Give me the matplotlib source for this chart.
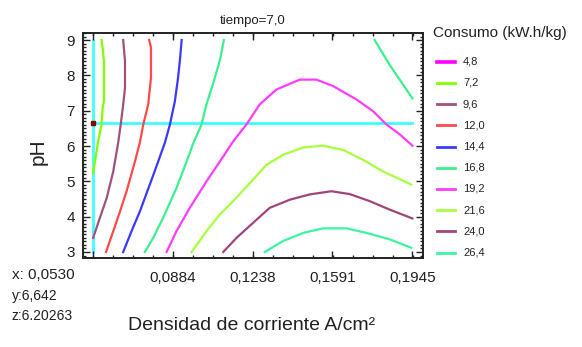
import matplotlib.pyplot as plt
from matplotlib.lines import Line2D
from matplotlib.ticker import MultipleLocator, FixedLocator

plt.rcParams['font.family'] = ['Liberation Sans', 'DejaVu Sans']

# contour levels shown in the legend (kW.h/kg)
levels = [4.8, 7.2, 9.6, 12.0, 14.4, 16.8, 19.2, 21.6, 24.0, 26.4]
level_labels = ['4,8', '7,2', '9,6', '12,0', '14,4', '16,8', '19,2', '21,6', '24,0', '26,4']
level_colors = ['#ff00ff', '#80ff00', '#a0527a', '#ff4a4a', '#3a3aff',
                '#3cf08e', '#ff3cff', '#a8ff3c', '#a0457a', '#3cf5a0']

# contour lines (x = current density, y = pH)
c72_x = [0.0568, 0.0573, 0.0579, 0.0579, 0.0573, 0.0568, 0.0553, 0.0531]
c72_y = [9.0, 8.77, 8.41, 7.28, 7.08, 6.61, 6.13, 5.23]

c96_x = [0.0664, 0.0669, 0.0672, 0.0672, 0.0664, 0.0653, 0.0642, 0.0620, 0.0591, 0.0561, 0.0531]
c96_y = [9.0, 8.63, 8.41, 7.65, 7.17, 6.61, 6.10, 5.28, 4.53, 3.97, 3.40]

c120_x = [0.0779, 0.0787, 0.0787, 0.0775, 0.0753, 0.0738, 0.0716, 0.0679, 0.0650, 0.0620, 0.0588]
c120_y = [9.0, 8.79, 7.93, 7.18, 6.61, 6.10, 5.56, 4.72, 4.15, 3.59, 3.0]

c144_x = [0.0923, 0.0915, 0.0907, 0.0893, 0.0871, 0.0849, 0.0819, 0.0782, 0.0738, 0.0701, 0.0664]
c144_y = [9.0, 8.41, 7.93, 7.27, 6.61, 6.10, 5.56, 4.91, 4.15, 3.59, 3.0]

c168_x = [0.1110, 0.1092, 0.1062, 0.1033, 0.1011, 0.0974, 0.0945, 0.0900, 0.0841, 0.0797, 0.0760]
c168_y = [9.0, 8.42, 7.76, 7.18, 6.61, 6.07, 5.56, 4.81, 3.97, 3.40, 3.0]

c168b_x = [0.1778, 0.1844, 0.1945]
c168b_y = [9.0, 8.30, 7.35]

c192_x = [0.0856, 0.0900, 0.0959, 0.1033, 0.1092, 0.1151, 0.1210, 0.1269, 0.1343,
          0.1446, 0.1520, 0.1593, 0.1697, 0.1770, 0.1830, 0.1889, 0.1945]
c192_y = [3.0, 3.59, 4.25, 5.0, 5.56, 6.13, 6.61, 7.18, 7.60,
          7.88, 7.88, 7.70, 7.32, 6.99, 6.61, 6.33, 6.01]

c216_x = [0.0967, 0.1033, 0.1092, 0.1151, 0.1225, 0.1299, 0.1372, 0.1461, 0.1549,
          0.1638, 0.1726, 0.1815, 0.1940]
c216_y = [3.0, 3.59, 4.06, 4.44, 4.95, 5.47, 5.75, 5.96, 6.01,
          5.89, 5.61, 5.28, 4.91]

c240_x = [0.1107, 0.1166, 0.1247, 0.1313, 0.1402, 0.1490, 0.1586, 0.1667, 0.1756, 0.1844, 0.1945]
c240_y = [3.0, 3.40, 3.87, 4.25, 4.48, 4.63, 4.72, 4.64, 4.44, 4.20, 3.95]

c264_x = [0.1291, 0.1372, 0.1461, 0.1549, 0.1653, 0.1741, 0.1844, 0.1940]
c264_y = [3.0, 3.31, 3.54, 3.67, 3.67, 3.54, 3.36, 3.12]

# cursor position
cursor_x = 0.0530
cursor_y = 6.642
cursor_z = 6.20263
x_min, x_max = 0.0530, 0.1945
y_min, y_max = 3.0, 9.0

x_ticks = [0.0530, 0.0884, 0.1238, 0.1591, 0.1945]
x_ticklabels = ['', '0,0884', '0,1238', '0,1591', '0,1945']
y_ticks = [3, 4, 5, 6, 7, 8, 9]

fig = plt.figure(figsize=(5.82, 3.47), dpi=100)
ax = fig.add_axes([83 / 582, 1 - 258 / 347, 340 / 582, 225 / 347])

# cursor cross-hair
ax.plot([cursor_x, cursor_x], [y_min, y_max], color='#40ffff', lw=2.0, zorder=1)
ax.plot([x_min, x_max], [cursor_y, cursor_y], color='#40ffff', lw=2.0, zorder=1)

lines = [
    (c72_x, c72_y, 1), (c96_x, c96_y, 2), (c120_x, c120_y, 3), (c144_x, c144_y, 4),
    (c168_x, c168_y, 5), (c168b_x, c168b_y, 5), (c192_x, c192_y, 6),
    (c216_x, c216_y, 7), (c240_x, c240_y, 8), (c264_x, c264_y, 9),
]
for xs, ys, i in lines:
    ax.plot(xs, ys, color=level_colors[i], lw=1.6, zorder=2)

ax.plot([cursor_x], [cursor_y], 's', color='#800000', ms=2.5, zorder=3)

ax.set_xlim(0.0486, 0.1992)
ax.set_ylim(2.83, 9.2)

ax.xaxis.set_major_locator(FixedLocator(x_ticks))
ax.set_xticklabels(x_ticklabels)
ax.xaxis.set_minor_locator(MultipleLocator(0.00885))
ax.yaxis.set_major_locator(FixedLocator(y_ticks))
ax.yaxis.set_minor_locator(MultipleLocator(0.1))

ax.tick_params(which='both', direction='in', top=True, right=True, colors='#222222',
               labelsize=11, width=1.0)
ax.tick_params(which='major', length=5)
ax.tick_params(which='minor', length=2.5)
ax.tick_params(axis='x', pad=9)
ax.tick_params(axis='y', pad=6)
for s in ax.spines.values():
    s.set_linewidth(1.4)
    s.set_color('#222222')

fig.text(253 / 582, 1 - 21 / 347, 'tiempo=7,0', ha='center', va='center',
         fontsize=9.5, color='#222222')
fig.text(38 / 582, 1 - 152 / 347, 'pH', rotation=90, ha='center', va='center',
         fontsize=15, color='#222222')
fig.text(252 / 582, 1 - 325 / 347, 'Densidad de corriente A/cm²', ha='center',
         va='center', fontsize=14, color='#222222')

# cursor readout
fig.text(12 / 582, 1 - 275 / 347, 'x: ' + f'{cursor_x:.4f}'.replace('.', ','),
         ha='left', va='center', fontsize=11, color='#222222')
fig.text(12 / 582, 1 - 296 / 347, 'y:' + f'{cursor_y:.3f}'.replace('.', ','),
         ha='left', va='center', fontsize=10, color='#222222')
fig.text(12 / 582, 1 - 316 / 347, 'z:' + f'{cursor_z:.5f}',
         ha='left', va='center', fontsize=10, color='#222222')

# legend
fig.text(433 / 582, 1 - 33 / 347, 'Consumo (kW.h/kg)', ha='left', va='center',
         fontsize=11, color='#222222')
for k, (lab, col) in enumerate(zip(level_labels, level_colors)):
    yy = 1 - (61.7 + k * 21.2) / 347
    lw = 2.6 if k == 0 else 2.0
    fig.add_artist(Line2D([437 / 582, 455 / 582], [yy, yy], color=col, lw=lw,
                          transform=fig.transFigure))
    fig.text(463 / 582, yy, lab, ha='left', va='center', fontsize=8, color='#222222')

fig.savefig('out.png', dpi=100)
